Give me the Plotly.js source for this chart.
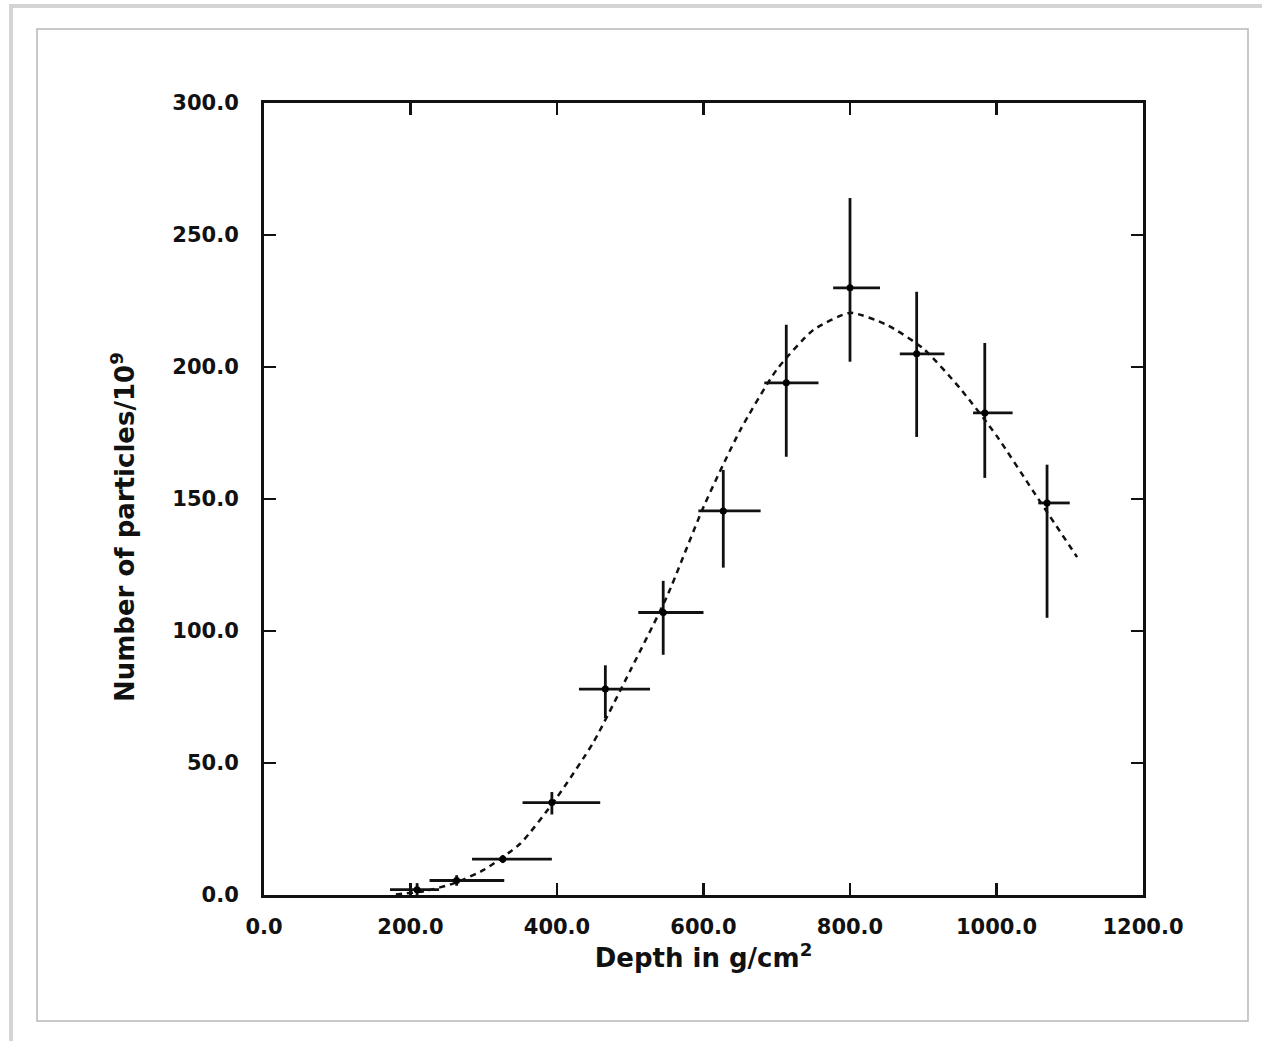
<!DOCTYPE html>
<html>
<head>
<meta charset="utf-8">
<script src="https://cdn.plot.ly/plotly-3.0.1.min.js"></script>
<style>
  html, body { margin: 0; padding: 0; background: #ffffff; }
  #chart { width: 1262px; height: 1041px; }
</style>
</head>
<body>
<div id="chart"></div>
<script>
// Measured data points (depth in g/cm^2, number of particles / 10^9)
const depth      = [209, 263, 326, 393, 466, 545, 627, 713, 800, 891, 984, 1069];
const particles  = [2.0, 5.5, 13.6, 35.0, 78.0, 107.0, 145.5, 194.0, 230.0, 205.0, 182.6, 148.5];
const depthErrMinus = [37, 37, 42, 40, 36, 34, 34, 30, 23, 23, 16, 12];
const depthErrPlus  = [30, 65, 67, 66, 61, 55, 51, 44, 41, 38, 38, 31];
const partErrPlus   = [2.5, 2.0, 1.5, 4.0, 9.0, 12.0, 15.5, 22.0, 34.0, 23.5, 26.5, 14.5];
const partErrMinus  = [2.5, 2.0, 1.5, 4.5, 11.0, 16.0, 21.5, 28.0, 28.0, 31.5, 24.6, 43.5];

// Fitted (dashed) curve
const curveDepth = [180, 220, 260, 300, 350, 400, 450, 500, 550, 600, 650, 700, 750, 800, 850, 900, 950, 1000, 1050, 1110];
const curveParticles = [0.2, 1.5, 4.5, 9.5, 19.5, 37, 58, 85, 113, 147, 176, 199, 214, 220.5, 216, 207, 192, 174, 153, 128];

const xTickVals = [0, 200, 400, 600, 800, 1000, 1200];
const xTickText = ['0.0', '200.0', '400.0', '600.0', '800.0', '1000.0', '1200.0'];
const yTickVals = [0, 50, 100, 150, 200, 250, 300];
const yTickText = ['0.0', '50.0', '100.0', '150.0', '200.0', '250.0', '300.0'];

const W = 1262, H = 1041;
const px = v => v / W;
const py = v => 1 - v / H;

const font = "'DejaVu Sans', 'Liberation Sans', sans-serif";

const traces = [
  {
    x: curveDepth, y: curveParticles, type: 'scatter', mode: 'lines',
    line: { color: '#111111', width: 2.5, dash: '6px,5px', shape: 'spline', smoothing: 0.6 },
    hoverinfo: 'skip', showlegend: false
  },
  {
    x: depth, y: particles, type: 'scatter', mode: 'markers',
    marker: { color: '#000000', size: 7 },
    error_x: { type: 'data', symmetric: false, array: depthErrPlus, arrayminus: depthErrMinus,
               color: '#111111', thickness: 2.8, width: 0 },
    error_y: { type: 'data', symmetric: false, array: partErrPlus, arrayminus: partErrMinus,
               color: '#111111', thickness: 2.8, width: 0 },
    showlegend: false
  }
];

const axisCommon = {
  showgrid: false, zeroline: false,
  showline: true, linecolor: '#111111', linewidth: 3, mirror: 'ticks',
  ticks: 'inside', ticklen: 12, tickwidth: 2.5, tickcolor: '#111111',
  tickfont: { family: font, size: 21, color: '#111111', weight: 'bold' },
  fixedrange: true
};

const layout = {
  width: W, height: H,
  margin: { l: 0, r: 0, t: 0, b: 0 },
  paper_bgcolor: '#ffffff', plot_bgcolor: '#ffffff',
  showlegend: false,
  xaxis: Object.assign({}, axisCommon, {
    domain: [px(264), px(1143)],
    range: [0, 1200],
    tickmode: 'array', tickvals: xTickVals, ticktext: xTickText,
    ticklabelstandoff: 11,
    title: { text: 'Depth in g/cm<sup>2</sup>', font: { family: font, size: 26, color: '#111111', weight: 'bold' }, standoff: 6 }
  }),
  yaxis: Object.assign({}, axisCommon, {
    domain: [py(895), py(103)],
    range: [0, 300],
    tickmode: 'array', tickvals: yTickVals, ticktext: yTickText,
    ticklabelstandoff: 18
  }),
  annotations: [
    { text: 'Number of particles/10<sup>9</sup>', xref: 'paper', yref: 'paper',
      x: px(123), y: py(527), xanchor: 'center', yanchor: 'middle', textangle: -90,
      showarrow: false, font: { family: font, size: 26, color: '#111111', weight: 'bold' } }
  ],
  shapes: [
    // outer shadow frame
    { type: 'path', xref: 'paper', yref: 'paper',
      path: `M ${px(11)} ${py(1041)} L ${px(11)} ${py(6)} L ${px(1262)} ${py(6)}`,
      line: { color: '#d4d4d4', width: 4 } },
    // inner frame
    { type: 'rect', xref: 'paper', yref: 'paper',
      x0: px(37), x1: px(1248), y0: py(1021), y1: py(29),
      line: { color: '#b8b8b8', width: 1.5 }, fillcolor: 'rgba(0,0,0,0)', layer: 'below' }
  ]
};

Plotly.newPlot('chart', traces, layout, { displayModeBar: false, staticPlot: true });
</script>
</body>
</html>
